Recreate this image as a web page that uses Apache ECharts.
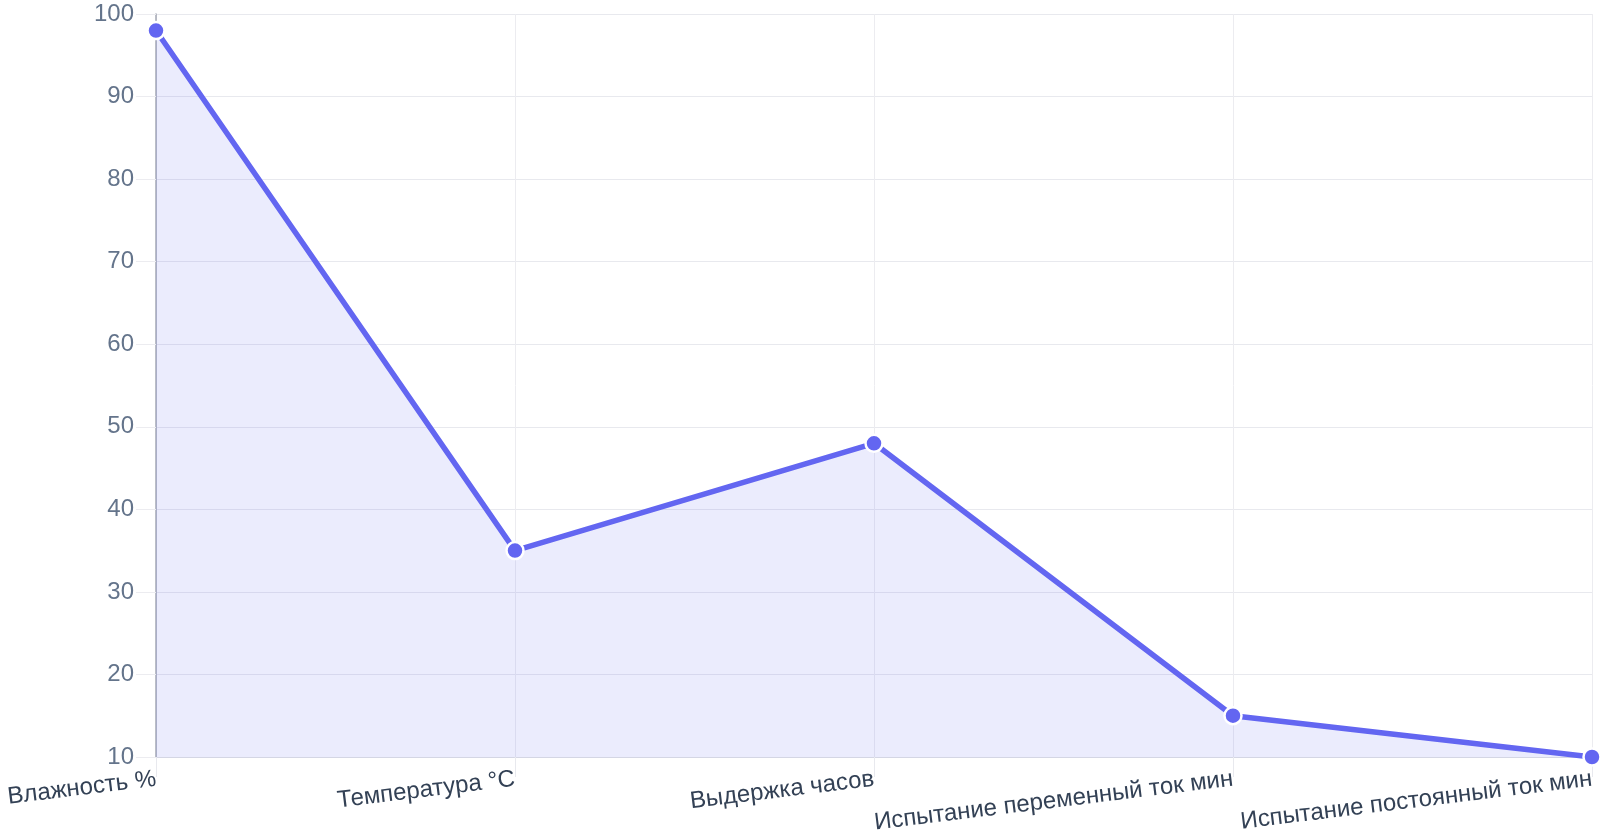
<!DOCTYPE html>
<html>
<head>
<meta charset="utf-8">
<script src="https://cdn.jsdelivr.net/npm/echarts@6/dist/echarts.min.js"></script>
<style>
  html, body { margin: 0; padding: 0; background: #ffffff; }
  #chart { width: 1600px; height: 840px; }
</style>
</head>
<body>
<div id="chart"></div>
<script>
var categories = ['Влажность %', 'Температура °C', 'Выдержка часов', 'Испытание переменный ток мин', 'Испытание постоянный ток мин'];
var values = [98, 35, 48, 15, 10];
var yMin = 10;
var yMax = 100;
var yStep = 10;

var myChart = echarts.init(document.getElementById('chart'));
var option = {
	animation: false,
	textStyle: { fontFamily: '"Liberation Sans", Arial, sans-serif' },
	grid: {
		left: 156,
		right: 8,
		top: 14,
		bottom: 83
	},
	xAxis: {
		type: 'category',
		boundaryGap: false,
		data: categories,
		axisLine: { lineStyle: { color: '#d4d6e4', width: 1 } },
		axisTick: { show: true, length: 20, lineStyle: { color: '#e8e9ee' } },
		axisLabel: {
			rotate: 7,
			margin: 22,
			fontSize: 24,
			color: '#334155',
			interval: 0
		},
		splitLine: { show: true, lineStyle: { color: '#ececf0' } }
	},
	yAxis: {
		type: 'value',
		min: yMin,
		max: yMax,
		interval: yStep,
		axisLine: { show: true, lineStyle: { color: '#a3a7b3', width: 1.5 } },
		axisTick: { show: true, length: 20, lineStyle: { color: '#ececf0' } },
		axisLabel: { fontSize: 24, color: '#64748b', margin: 22 },
		splitLine: { lineStyle: { color: '#e8e9ee' } }
	},
	series: [{
		type: 'line',
		data: values,
		symbol: 'circle',
		symbolSize: 17,
		showAllSymbol: true,
		lineStyle: { color: '#6366f1', width: 5.5 },
		itemStyle: { color: '#6366f1', borderColor: '#ffffff', borderWidth: 2.5 },
		areaStyle: { color: 'rgba(99, 102, 241, 0.18)', origin: 'start' }
	}]
};
myChart.setOption(option);
</script>
</body>
</html>
